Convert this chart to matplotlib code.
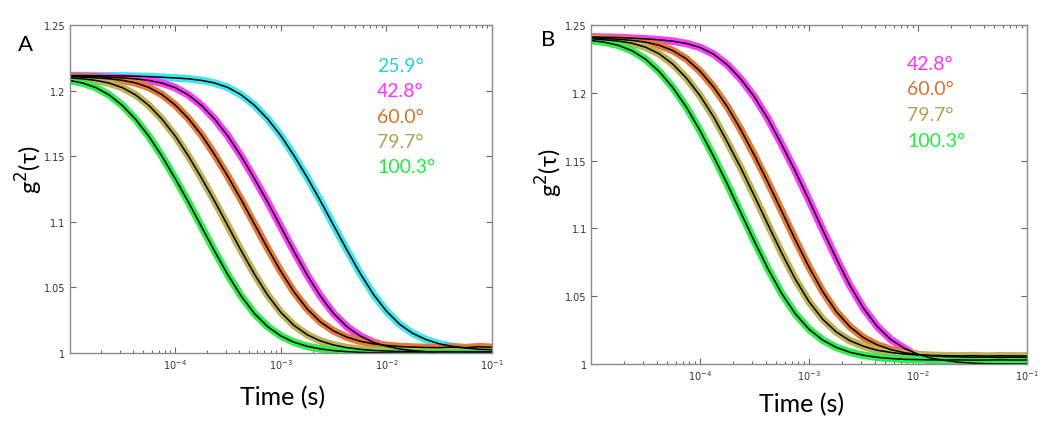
import matplotlib.pyplot as plt
from matplotlib.ticker import FixedLocator, LogLocator, NullFormatter

# lag times (s), 8 points per decade
tau = [1.000e-5, 1.334e-5, 1.778e-5, 2.371e-5, 3.162e-5, 4.217e-5, 5.623e-5, 7.499e-5,
       1.000e-4, 1.334e-4, 1.778e-4, 2.371e-4, 3.162e-4, 4.217e-4, 5.623e-4, 7.499e-4,
       1.000e-3, 1.334e-3, 1.778e-3, 2.371e-3, 3.162e-3, 4.217e-3, 5.623e-3, 7.499e-3,
       1.000e-2, 1.334e-2, 1.778e-2, 2.371e-2, 3.162e-2, 4.217e-2, 5.623e-2, 7.499e-2,
       1.000e-1]

# panel A
a_259 = [1.2115, 1.2115, 1.2114, 1.2113, 1.2112, 1.2110, 1.2107, 1.2102, 1.2097, 1.2090,
         1.2078, 1.2058, 1.2024, 1.1968, 1.1889, 1.1785, 1.1657, 1.1505, 1.1338, 1.1160,
         1.0973, 1.0787, 1.0609, 1.0449, 1.0319, 1.0219, 1.0149, 1.0102, 1.0070, 1.0050,
         1.0038, 1.0029, 1.0025]
a_428 = [1.2112, 1.2110, 1.2107, 1.2102, 1.2097, 1.2090, 1.2078, 1.2058, 1.2023, 1.1967,
         1.1887, 1.1782, 1.1653, 1.1500, 1.1330, 1.1151, 1.0962, 1.0774, 1.0594, 1.0434,
         1.0301, 1.0201, 1.0130, 1.0082, 1.0051, 1.0031, 1.0018, 1.0010, 0.9995, 0.9992,
         0.9998, 1.0000, 1.0000]
a_600 = [1.2107, 1.2103, 1.2097, 1.2090, 1.2079, 1.2059, 1.2025, 1.1970, 1.1891, 1.1788,
         1.1662, 1.1511, 1.1345, 1.1169, 1.0984, 1.0799, 1.0623, 1.0465, 1.0336, 1.0237,
         1.0168, 1.0121, 1.0090, 1.0070, 1.0058, 1.0049, 1.0045, 1.0042, 1.0041, 1.0045,
         1.0040, 1.0048, 1.0043]
a_797 = [1.2097, 1.2090, 1.2078, 1.2058, 1.2023, 1.1968, 1.1888, 1.1783, 1.1655, 1.1502,
         1.1334, 1.1155, 1.0968, 1.0780, 1.0602, 1.0442, 1.0310, 1.0210, 1.0139, 1.0092,
         1.0061, 1.0041, 1.0028, 1.0019, 1.0015, 1.0012, 1.0011, 1.0010, 1.0010, 1.0010,
         1.0010, 1.0010, 1.0010]
a_1003 = [1.2078, 1.2058, 1.2023, 1.1967, 1.1887, 1.1782, 1.1653, 1.1500, 1.1330, 1.1151,
          1.0962, 1.0774, 1.0594, 1.0434, 1.0301, 1.0201, 1.0130, 1.0082, 1.0051, 1.0031,
          1.0018, 1.0010, 1.0005, 1.0002, 1.0001, 1.0000, 1.0000, 1.0000, 1.0000, 1.0000,
          1.0000, 1.0000, 1.0000]

# panel B (measured)
b_428 = [1.2413, 1.2410, 1.2408, 1.2403, 1.2398, 1.2391, 1.2381, 1.2364, 1.2335, 1.2285,
         1.2207, 1.2101, 1.1968, 1.1806, 1.1618, 1.1420, 1.1208, 1.0990, 1.0778, 1.0580,
         1.0411, 1.0278, 1.0181, 1.0116, 1.0050, 1.0020, 0.9990, 0.9980, 0.9995, 1.0000,
         0.9990, 0.9985, 0.9995]
b_600 = [1.2406, 1.2401, 1.2395, 1.2387, 1.2374, 1.2351, 1.2312, 1.2250, 1.2160, 1.2042,
         1.1898, 1.1727, 1.1538, 1.1337, 1.1126, 1.0916, 1.0715, 1.0535, 1.0387, 1.0275,
         1.0195, 1.0142, 1.0107, 1.0084, 1.0070, 1.0061, 1.0055, 1.0053, 1.0050, 1.0052,
         1.0049, 1.0051, 1.0050]
b_797 = [1.2399, 1.2391, 1.2382, 1.2366, 1.2337, 1.2288, 1.2212, 1.2109, 1.1979, 1.1822,
         1.1638, 1.1445, 1.1238, 1.1026, 1.0818, 1.0625, 1.0460, 1.0331, 1.0237, 1.0173,
         1.0131, 1.0102, 1.0086, 1.0074, 1.0067, 1.0064, 1.0062, 1.0060, 1.0062, 1.0059,
         1.0061, 1.0060, 1.0060]
b_1003 = [1.2386, 1.2373, 1.2351, 1.2311, 1.2248, 1.2157, 1.2039, 1.1894, 1.1721, 1.1530,
          1.1327, 1.1115, 1.0903, 1.0700, 1.0519, 1.0370, 1.0257, 1.0177, 1.0123, 1.0087,
          1.0065, 1.0050, 1.0041, 1.0035, 1.0033, 1.0031, 1.0030, 1.0031, 1.0029, 1.0030,
          1.0031, 1.0030, 1.0030]
# fit for 42.8° in B stays on the baseline where the data dips
b_428_fit = [1.2413, 1.2410, 1.2408, 1.2403, 1.2398, 1.2391, 1.2381, 1.2364, 1.2335, 1.2285,
             1.2207, 1.2101, 1.1968, 1.1806, 1.1618, 1.1420, 1.1208, 1.0990, 1.0778, 1.0580,
             1.0411, 1.0278, 1.0181, 1.0116, 1.0072, 1.0043, 1.0027, 1.0014, 1.0007, 1.0003,
             1.0002, 1.0001, 1.0001]

angles_a = ["25.9°", "42.8°", "60.0°", "79.7°", "100.3°"]
angles_b = ["42.8°", "60.0°", "79.7°", "100.3°"]

data_col = {"25.9°": "#40E6EE", "42.8°": "#FF3BFF", "60.0°": "#E37A38",
            "79.7°": "#BDB256", "100.3°": "#2EEE50"}
text_col = {"25.9°": "#22D2D6", "42.8°": "#FF33FF", "60.0°": "#D8702E",
            "79.7°": "#B0A055", "100.3°": "#1EEE3E"}

ui_font = ["Lato", "DejaVu Sans"]


def draw_panel(ax, names, series, fits, text_x, text_y, text_dy):
    for name, y in zip(names, series):
        ax.plot(tau, y, color=data_col[name], lw=5.5, solid_capstyle="round")
    for y in fits:
        ax.plot(tau, y, color="black", lw=1.1)

    ax.set_xscale("log")
    ax.set_xlim(1e-5, 1e-1)
    ax.set_ylim(1.0, 1.25)
    ax.xaxis.set_major_locator(FixedLocator([1e-4, 1e-3, 1e-2, 1e-1]))
    ax.set_xticklabels([r"$10^{-4}$", r"$10^{-3}$", r"$10^{-2}$", r"$10^{-1}$"])
    ax.xaxis.set_minor_locator(LogLocator(base=10, subs=range(2, 10)))
    ax.xaxis.set_minor_formatter(NullFormatter())
    ax.set_yticks([1.0, 1.05, 1.1, 1.15, 1.2, 1.25])
    ax.set_yticklabels(["1", "1.05", "1.1", "1.15", "1.2", "1.25"])

    ax.tick_params(which="both", direction="in", top=True, right=True,
                   colors="#666666", labelcolor="#333333", labelsize=7, width=0.8)
    ax.tick_params(which="major", length=4, pad=3)
    ax.tick_params(which="minor", length=2)
    for sp in ax.spines.values():
        sp.set_color("#8c8c8c")
        sp.set_linewidth(1.0)

    for i, name in enumerate(names):
        ax.text(text_x, text_y - i * text_dy, name, transform=ax.transAxes,
                color=text_col[name], fontsize=14, family=ui_font, style="normal",
                va="center")


fig = plt.figure(figsize=(10.5, 4.27), dpi=100)
ax_a = fig.add_axes([0.0662, 0.171, 0.4024, 0.768])
ax_b = fig.add_axes([0.5629, 0.145, 0.4152, 0.794])

series_a = [a_259, a_428, a_600, a_797, a_1003]
series_b = [b_428, b_600, b_797, b_1003]
draw_panel(ax_a, angles_a, series_a, series_a, 0.728, 0.878, 0.0777)
draw_panel(ax_b, angles_b, series_b, [b_428_fit, b_600, b_797, b_1003], 0.725, 0.888, 0.0758)

fig.text(26 / 1050, 1 - 45 / 427, "A", fontsize=16, family=ui_font, ha="center", va="center")
fig.text(548 / 1050, 1 - 40 / 427, "B", fontsize=16, family=ui_font, ha="center", va="center")

fig.text(283 / 1050, 1 - 398 / 427, "Time (s)", fontsize=18, family=ui_font,
         ha="center", va="center")
fig.text(802 / 1050, 1 - 405 / 427, "Time (s)", fontsize=18, family=ui_font,
         ha="center", va="center")
fig.text(29 / 1050, 1 - 170 / 427, r"g$^2$(τ)", fontsize=17, family=ui_font,
         rotation=90, ha="center", va="center")
fig.text(549 / 1050, 1 - 173 / 427, r"g$^2$(τ)", fontsize=17, family=ui_font,
         rotation=90, ha="center", va="center")

fig.savefig("out.png", dpi=100, facecolor="white")
